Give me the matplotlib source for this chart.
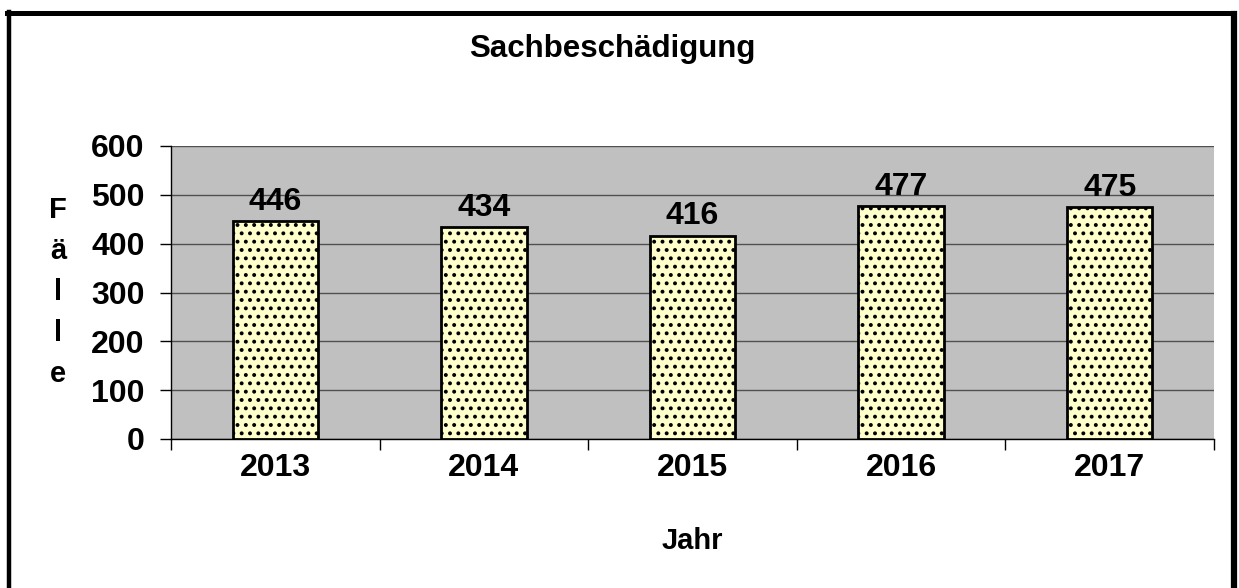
import matplotlib
matplotlib.use("Agg")
import matplotlib.pyplot as plt
from matplotlib.lines import Line2D

# data
years = ["2013", "2014", "2015", "2016", "2017"]
cases = [446, 434, 416, 477, 475]
yticks = [0, 100, 200, 300, 400, 500, 600]

plt.rcParams["font.family"] = ["Liberation Sans", "DejaVu Sans"]
plt.rcParams["font.weight"] = "bold"
plt.rcParams["hatch.linewidth"] = 1.6
plt.rcParams["hatch.color"] = "#333333"

W, H = 1239, 588
fig = plt.figure(figsize=(W / 100, H / 100), dpi=100)
ax = fig.add_axes([171 / W, 1 - 439 / H, (1214 - 171) / W, (439 - 146) / H])

ax.set_facecolor("#c0c0c0")
ax.set_axisbelow(True)
ax.yaxis.grid(True, color="#505050", linewidth=1.0)

x = list(range(len(years)))
bars = ax.bar(x, cases, width=0.41, color="#ffffcc", edgecolor="black",
              linewidth=2, hatch="..", zorder=3)

for xi, v in zip(x, cases):
    ax.text(xi, v + 9, str(v), ha="center", va="bottom", fontsize=23,
            fontweight="bold", zorder=4)

ax.set_xlim(-0.5, len(years) - 0.5)
ax.set_ylim(0, 600)
ax.set_yticks(yticks)
ax.set_yticklabels([str(t) for t in yticks], fontsize=23, fontweight="bold")
ax.set_xticks(x)
ax.set_xticklabels(years, fontsize=23, fontweight="bold")
ax.set_xticks([i - 0.5 for i in range(len(years) + 1)], minor=True)
ax.tick_params(axis="x", which="major", length=0, pad=10)
ax.tick_params(axis="x", which="minor", length=8, width=1, direction="out")
ax.tick_params(axis="y", length=8, width=1, direction="out", pad=11)

for side in ["top", "right"]:
    ax.spines[side].set_visible(False)
ax.spines["left"].set_linewidth(1)
ax.spines["bottom"].set_linewidth(1)

fig.text(612 / W, 1 - 49 / H, "Sachbeschädigung", ha="center", va="center",
         fontsize=22.5, fontweight="bold")
fig.text(692 / W, 1 - 541 / H, "Jahr", ha="center", va="center",
         fontsize=21, fontweight="bold")
fig.text(58 / W, 1 - 292 / H, "F\nä\nl\nl\ne", ha="center", va="center",
         fontsize=21, fontweight="bold", linespacing=1.6)

# outer frame
fig.add_artist(Line2D([9 / W, 9 / W], [0, 1 - 12 / H], color="black", linewidth=3.2,
                      transform=fig.transFigure))
fig.add_artist(Line2D([7 / W, 1234 / W], [1 - 12.5 / H, 1 - 12.5 / H], color="black",
                      linewidth=3.6, transform=fig.transFigure))
fig.add_artist(Line2D([1233.5 / W, 1233.5 / W], [0, 1 - 14 / H], color="black",
                      linewidth=4.5, transform=fig.transFigure))

fig.savefig("out.png", dpi=100, facecolor="white")
